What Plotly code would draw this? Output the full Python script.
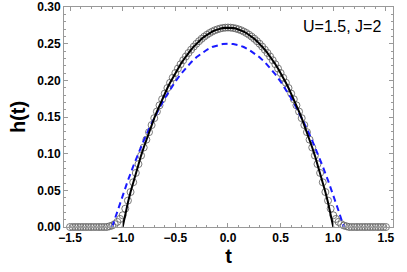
import plotly.graph_objects as go

# black solid curve (t, h)
t_black = [-1.0, -0.975, -0.95, -0.925, -0.9, -0.875, -0.85, -0.825, -0.8, -0.775, -0.75, -0.725, -0.7, -0.675,
           -0.65, -0.625, -0.6, -0.575, -0.55, -0.525, -0.5, -0.475, -0.45, -0.425, -0.4, -0.375, -0.35, -0.325,
           -0.3, -0.275, -0.25, -0.225, -0.2, -0.175, -0.15, -0.125, -0.1, -0.075, -0.05, -0.025, 0.0,
           0.025, 0.05, 0.075, 0.1, 0.125, 0.15, 0.175, 0.2, 0.225, 0.25, 0.275, 0.3, 0.325, 0.35, 0.375, 0.4,
           0.425, 0.45, 0.475, 0.5, 0.525, 0.55, 0.575, 0.6, 0.625, 0.65, 0.675, 0.7, 0.725, 0.75, 0.775, 0.8,
           0.825, 0.85, 0.875, 0.9, 0.925, 0.95, 0.975, 1.0]
h_black = [0.0, 0.0181, 0.0335, 0.0477, 0.0610, 0.0737, 0.0858, 0.0974, 0.1084, 0.1191, 0.1293, 0.1390, 0.1484,
           0.1574, 0.1659, 0.1742, 0.1820, 0.1895, 0.1967, 0.2035, 0.2100, 0.2161, 0.2219, 0.2274, 0.2325, 0.2373,
           0.2418, 0.2460, 0.2499, 0.2534, 0.2567, 0.2596, 0.2622, 0.2645, 0.2665, 0.2682, 0.2695, 0.2706, 0.2714,
           0.2718, 0.2720,
           0.2718, 0.2714, 0.2706, 0.2695, 0.2682, 0.2665, 0.2645, 0.2622, 0.2596, 0.2567, 0.2534, 0.2499, 0.2460,
           0.2418, 0.2373, 0.2325, 0.2274, 0.2219, 0.2161, 0.2100, 0.2035, 0.1967, 0.1895, 0.1820, 0.1742, 0.1659,
           0.1574, 0.1484, 0.1390, 0.1293, 0.1191, 0.1084, 0.0974, 0.0858, 0.0737, 0.0610, 0.0477, 0.0335, 0.0181,
           0.0]

# blue dashed curve
t_blue = [-1.1, -1.05, -1.0, -0.95, -0.9, -0.85, -0.8, -0.75, -0.7, -0.65, -0.6, -0.55, -0.5, -0.45, -0.4, -0.35,
          -0.3, -0.25, -0.2, -0.15, -0.1, -0.05, 0.0, 0.05, 0.1, 0.15, 0.2, 0.25, 0.3, 0.35, 0.4, 0.45, 0.5, 0.55,
          0.6, 0.65, 0.7, 0.75, 0.8, 0.85, 0.9, 0.95, 1.0, 1.05, 1.1]
h_blue = [0.0, 0.0222, 0.0434, 0.0635, 0.0826, 0.1007, 0.1178, 0.1338, 0.1488, 0.1627, 0.1756, 0.1875, 0.1983,
          0.2082, 0.2169, 0.2247, 0.2314, 0.2371, 0.2417, 0.2454, 0.2479, 0.2495, 0.2500, 0.2495, 0.2479, 0.2454,
          0.2417, 0.2371, 0.2314, 0.2247, 0.2169, 0.2082, 0.1983, 0.1875, 0.1756, 0.1627, 0.1488, 0.1338, 0.1178,
          0.1007, 0.0826, 0.0635, 0.0434, 0.0222, 0.0]

# open circles (simulation points)
t_circ = [-1.5, -1.475, -1.45, -1.425, -1.4, -1.375, -1.35, -1.325, -1.3, -1.275, -1.25, -1.225, -1.2, -1.175,
          -1.15, -1.125, -1.1, -1.075, -1.05, -1.025, -1.0, -0.975, -0.95, -0.925, -0.9, -0.875, -0.85, -0.825,
          -0.8, -0.775, -0.75, -0.725, -0.7, -0.675, -0.65, -0.625, -0.6, -0.575, -0.55, -0.525, -0.5, -0.475,
          -0.45, -0.425, -0.4, -0.375, -0.35, -0.325, -0.3, -0.275, -0.25, -0.225, -0.2, -0.175, -0.15, -0.125,
          -0.1, -0.075, -0.05, -0.025, 0.0, 0.025, 0.05, 0.075, 0.1, 0.125, 0.15, 0.175, 0.2, 0.225, 0.25, 0.275,
          0.3, 0.325, 0.35, 0.375, 0.4, 0.425, 0.45, 0.475, 0.5, 0.525, 0.55, 0.575, 0.6, 0.625, 0.65, 0.675, 0.7,
          0.725, 0.75, 0.775, 0.8, 0.825, 0.85, 0.875, 0.9, 0.925, 0.95, 0.975, 1.0, 1.025, 1.05, 1.075, 1.1,
          1.125, 1.15, 1.175, 1.2, 1.225, 1.25, 1.275, 1.3, 1.325, 1.35, 1.375, 1.4, 1.425, 1.45, 1.475, 1.5]
h_circ = [0.0, 0.0, 0.0, 0.0, 0.0, 0.0, 0.0, 0.0, 0.0, 0.0, 0.0, 0.0, 0.0, 0.0, 0.0, 0.001, 0.002, 0.004, 0.007,
          0.011, 0.016, 0.025, 0.036, 0.0477, 0.0610, 0.0737, 0.0858, 0.0974, 0.1084, 0.1191, 0.1293, 0.1390,
          0.1484, 0.1574, 0.1659, 0.1742, 0.1820, 0.1895, 0.1967, 0.2035, 0.2100, 0.2161, 0.2219, 0.2274, 0.2325,
          0.2373, 0.2418, 0.2460, 0.2499, 0.2534, 0.2567, 0.2596, 0.2622, 0.2645, 0.2665, 0.2682, 0.2695, 0.2706,
          0.2714, 0.2718, 0.2720, 0.2718, 0.2714, 0.2706, 0.2695, 0.2682, 0.2665, 0.2645, 0.2622, 0.2596, 0.2567,
          0.2534, 0.2499, 0.2460, 0.2418, 0.2373, 0.2325, 0.2274, 0.2219, 0.2161, 0.2100, 0.2035, 0.1967, 0.1895,
          0.1820, 0.1742, 0.1659, 0.1574, 0.1484, 0.1390, 0.1293, 0.1191, 0.1084, 0.0974, 0.0858, 0.0737, 0.0610,
          0.0477, 0.036, 0.025, 0.016, 0.011, 0.007, 0.004, 0.002, 0.001, 0.0, 0.0, 0.0, 0.0, 0.0, 0.0, 0.0, 0.0,
          0.0, 0.0, 0.0, 0.0, 0.0, 0.0, 0.0]

x_ticks = [-1.5, -1.0, -0.5, 0.0, 0.5, 1.0, 1.5]
x_ticklabels = ["\u22121.5", "\u22121.0", "\u22120.5", "0.0", "0.5", "1.0", "1.5"]
y_ticks = [0.0, 0.05, 0.10, 0.15, 0.20, 0.25, 0.30]
y_ticklabels = ["0.00", "0.05", "0.10", "0.15", "0.20", "0.25", "0.30"]

fig = go.Figure()
fig.add_trace(go.Scatter(x=t_circ, y=h_circ, mode="markers",
                         marker=dict(symbol="circle-open", size=7, color="#5a5a5a", line=dict(width=0.8)),
                         showlegend=False, cliponaxis=False))
fig.add_trace(go.Scatter(x=t_blue, y=h_blue, mode="lines",
                         line=dict(color="#1a1aff", width=2, dash="6px,4px"), showlegend=False))
fig.add_trace(go.Scatter(x=t_black, y=h_black, mode="lines",
                         line=dict(color="black", width=2), showlegend=False))

axis_common = dict(showline=True, linecolor="#999999", linewidth=1, mirror="allticks",
                   ticks="inside", ticklen=4, tickcolor="#999999", tickwidth=1,
                   showgrid=False, zeroline=False, automargin=False,
                   tickfont=dict(family="Liberation Sans, Arial", size=12, color="black", weight="bold"))

fig.update_xaxes(range=[-1.557, 1.567], tickvals=x_ticks, ticktext=x_ticklabels,
                 minor=dict(dtick=0.1, ticks="inside", ticklen=2, tickcolor="#999999"),
                 title=dict(text="<b>t</b>", font=dict(family="Liberation Sans, Arial", size=20, color="black"),
                            standoff=3),
                 **axis_common)
fig.update_yaxes(range=[0, 0.3], tickvals=y_ticks, ticktext=y_ticklabels,
                 minor=dict(dtick=0.01, ticks="inside", ticklen=2, tickcolor="#999999"),
                 title=dict(text="<b>h(t)</b>", font=dict(family="Liberation Sans, Arial", size=20, color="black"),
                            standoff=6),
                 **axis_common)

fig.add_annotation(x=0.97, y=0.91, xref="paper", yref="paper", xanchor="right", yanchor="middle",
                   text="U=1.5, J=2", showarrow=False,
                   font=dict(family="Liberation Sans, Arial", size=16, color="black"))

fig.update_layout(width=407, height=272, margin=dict(l=64, r=14, t=7, b=45),
                  plot_bgcolor="white", paper_bgcolor="white")

fig.write_html("out.html", config={"displayModeBar": False},
               post_script="document.body.style.margin='0';")
